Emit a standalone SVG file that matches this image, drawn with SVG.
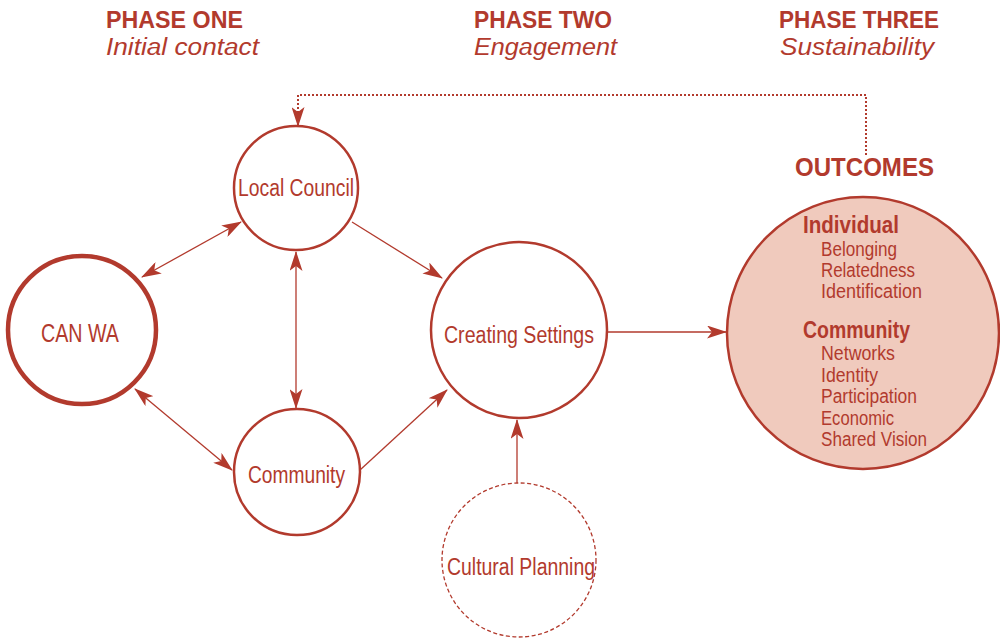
<svg xmlns="http://www.w3.org/2000/svg" width="1000" height="638" viewBox="0 0 1000 638">
<style>
text{font-family:"Liberation Sans Narrow","Liberation Sans",Arial,sans-serif;fill:#b23a2d}
.ph{font-weight:bold;font-size:23px}
.it{font-style:italic;font-size:23px}
.lbl{font-size:23px}
.ol{font-size:20px}
.oh{font-weight:bold;font-size:23px}
.node{fill:#fff;stroke:#b23a2d;stroke-width:2.5}
.con{stroke:#b23a2d;stroke-width:1.3;fill:none}
</style>
<defs>
<marker id="ah" viewBox="0 0 20 13" refX="19" refY="6.5" markerWidth="20" markerHeight="13" markerUnits="userSpaceOnUse" orient="auto-start-reverse">
<path d="M0,0 L20,6.5 L0,13 L5,6.5 z" fill="#b23a2d"/>
</marker>
</defs>
<rect width="1000" height="638" fill="#fff"/>
<g id="headers">
<text class="ph" x="106" y="28" textLength="137" lengthAdjust="spacingAndGlyphs">PHASE ONE</text>
<text class="it" x="106" y="55" textLength="153" lengthAdjust="spacingAndGlyphs">Initial contact</text>
<text class="ph" x="474" y="28" textLength="138" lengthAdjust="spacingAndGlyphs">PHASE TWO</text>
<text class="it" x="474" y="55" textLength="143" lengthAdjust="spacingAndGlyphs">Engagement</text>
<text class="ph" x="779" y="28" textLength="160" lengthAdjust="spacingAndGlyphs">PHASE THREE</text>
<text class="it" x="780" y="55" textLength="154" lengthAdjust="spacingAndGlyphs">Sustainability</text>
<text class="ph" x="795" y="176" style="font-size:25px" textLength="139" lengthAdjust="spacingAndGlyphs">OUTCOMES</text>
</g>
<g id="connectors">
<line class="con" x1="142" y1="277" x2="241" y2="222" marker-start="url(#ah)" marker-end="url(#ah)"/>
<line class="con" x1="135" y1="389" x2="232" y2="470" marker-start="url(#ah)" marker-end="url(#ah)"/>
<line class="con" x1="296" y1="252" x2="296" y2="408" marker-start="url(#ah)" marker-end="url(#ah)"/>
<line class="con" x1="352" y1="222" x2="442" y2="278" marker-end="url(#ah)"/>
<line class="con" x1="360" y1="470" x2="447" y2="390" marker-end="url(#ah)"/>
<line class="con" x1="517" y1="483" x2="517" y2="420" marker-end="url(#ah)"/>
<line class="con" x1="608" y1="332" x2="726" y2="332" marker-end="url(#ah)"/>
<path class="con" d="M866,155 L866,95 L298,95 L298,126" style="stroke-width:2;stroke-dasharray:2,2" marker-end="url(#ah)"/>
</g>
<g id="local-council">
<circle class="node" cx="296" cy="188" r="62"/>
<text class="lbl" x="238" y="196" textLength="116" lengthAdjust="spacingAndGlyphs">Local Council</text>
</g>
<g id="can-wa">
<circle class="node" cx="82" cy="330" r="74" style="stroke-width:4.5"/>
<text class="lbl" x="41" y="342" style="font-size:25px" textLength="78" lengthAdjust="spacingAndGlyphs">CAN WA</text>
</g>
<g id="community">
<circle class="node" cx="297" cy="472" r="63"/>
<text class="lbl" x="248" y="483" textLength="97" lengthAdjust="spacingAndGlyphs">Community</text>
</g>
<g id="creating-settings">
<circle class="node" cx="519" cy="330" r="88"/>
<text class="lbl" x="444" y="343" textLength="150" lengthAdjust="spacingAndGlyphs">Creating Settings</text>
</g>
<g id="cultural-planning">
<circle class="node" cx="519" cy="560" r="77" style="stroke-width:1.3;stroke-dasharray:4,2.5"/>
<text class="lbl" x="447" y="575" textLength="148" lengthAdjust="spacingAndGlyphs">Cultural Planning</text>
</g>
<g id="outcomes">
<circle cx="863" cy="333" r="136" fill="#f0cabd" stroke="#b23a2d" stroke-width="2.5"/>
<text class="oh" x="803" y="233" textLength="96" lengthAdjust="spacingAndGlyphs">Individual</text>
<text class="ol" x="821" y="256" textLength="76" lengthAdjust="spacingAndGlyphs">Belonging</text>
<text class="ol" x="821" y="277" textLength="94" lengthAdjust="spacingAndGlyphs">Relatedness</text>
<text class="ol" x="821" y="298" textLength="101" lengthAdjust="spacingAndGlyphs">Identification</text>
<text class="oh" x="803" y="338" textLength="107" lengthAdjust="spacingAndGlyphs">Community</text>
<text class="ol" x="821" y="360" textLength="74" lengthAdjust="spacingAndGlyphs">Networks</text>
<text class="ol" x="821" y="382" textLength="57" lengthAdjust="spacingAndGlyphs">Identity</text>
<text class="ol" x="821" y="403" textLength="96" lengthAdjust="spacingAndGlyphs">Participation</text>
<text class="ol" x="821" y="425" textLength="73" lengthAdjust="spacingAndGlyphs">Economic</text>
<text class="ol" x="821" y="446" textLength="106" lengthAdjust="spacingAndGlyphs">Shared Vision</text>
</g>
</svg>
